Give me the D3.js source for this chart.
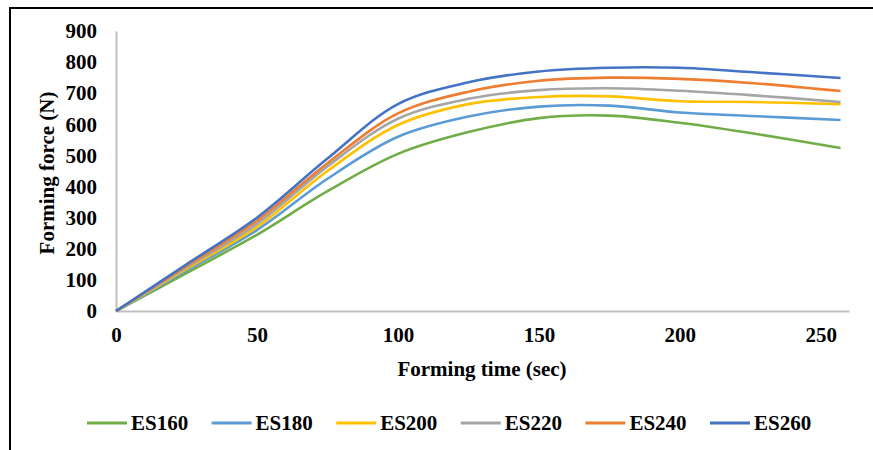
<!DOCTYPE html>
<html><head><meta charset="utf-8">
<script src="https://cdn.jsdelivr.net/npm/d3@7"></script>
<style>body{margin:0;background:#fff}svg{display:block}text{font-family:"Liberation Serif","Times New Roman",serif;font-weight:bold;fill:#000}</style>
</head><body><div id="c"></div>
<script>
const times = [0,25,50,75,100,125,150,175,200,225,257];
const ES160 = [0,122,245,385,505,575,620,628,605,572,524];
const ES180 = [0,130,260,425,560,625,657,660,638,627,614];
const ES200 = [0,135,270,450,598,665,688,690,674,672,665];
const ES220 = [0,140,280,465,618,682,710,716,708,694,672];
const ES240 = [0,145,290,475,635,705,740,750,746,733,707];
const ES260 = [0,150,300,490,665,735,770,782,782,768,749];
const seriesNames = ["ES160","ES180","ES200","ES220","ES240","ES260"];
const seriesColors = ["#70AD47","#5B9BD5","#FFC000","#A5A5A5","#ED7D31","#4472C4"];
const seriesValues = [ES160,ES180,ES200,ES220,ES240,ES260];
const xTicks = [0,50,100,150,200,250];
const yTicks = [0,100,200,300,400,500,600,700,800,900];

const W=873,H=450;
const svg=d3.select("#c").append("svg").attr("width",W).attr("height",H);
svg.append("rect").attr("x",10).attr("y",8).attr("width",W).attr("height",H).attr("fill","none").attr("stroke","#000").attr("stroke-width",2);

const x=d3.scaleLinear().domain([0,260]).range([116,849]);
const y=d3.scaleLinear().domain([0,900]).range([311,31]);

const fs="21px";
const gx=svg.append("g").attr("transform","translate(0,311)")
  .call(d3.axisBottom(x).tickValues(xTicks).tickSize(0).tickPadding(16));
gx.select(".domain").attr("stroke","#BFBFBF").attr("stroke-width",2);
gx.selectAll("text").style("font-size",fs).style("font-family","Liberation Serif").style("font-weight","bold");

const gy=svg.append("g").attr("transform","translate(116,0)")
  .call(d3.axisLeft(y).tickValues(yTicks).tickSize(0).tickPadding(19));
gy.select(".domain").attr("stroke","#BFBFBF").attr("stroke-width",2);
gy.selectAll("text").style("font-size",fs).style("font-family","Liberation Serif").style("font-weight","bold");

const line=d3.line().x((d,i)=>x(times[i])).y(d=>y(d)).curve(d3.curveCatmullRom.alpha(0.5));
seriesValues.forEach((vals,k)=>{
  svg.append("path").datum(vals).attr("d",line).attr("fill","none")
    .attr("stroke",seriesColors[k]).attr("stroke-width",2.6);
});

svg.append("text").attr("x",482).attr("y",376).attr("text-anchor","middle").style("font-size",fs).text("Forming time (sec)");
svg.append("text").attr("transform","translate(54,173) rotate(-90)").attr("text-anchor","middle").style("font-size",fs).text("Forming force (N)");

const lg=svg.append("g");
seriesNames.forEach((n,k)=>{
  const x0=87+k*124.6;
  lg.append("line").attr("x1",x0).attr("x2",x0+40).attr("y1",423).attr("y2",423).attr("stroke",seriesColors[k]).attr("stroke-width",3);
  lg.append("text").attr("x",x0+44).attr("y",430).style("font-size",fs).text(n);
});
</script></body></html>
